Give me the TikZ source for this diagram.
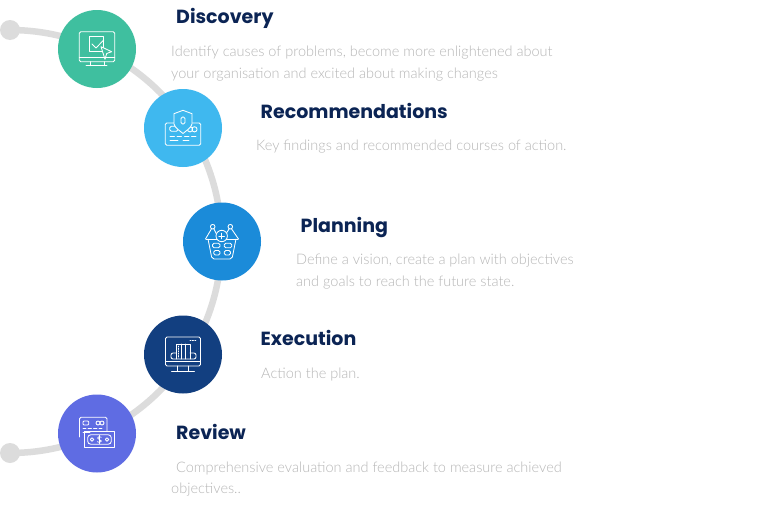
\documentclass[tikz,border=0pt]{standalone}
\usepackage{fontspec}
\newfontfamily\headb{Poppins Bold}
\newfontfamily\bodyf{Lato Light}
\definecolor{headc}{HTML}{0B2454}
\definecolor{bodyc}{HTML}{B6B6B6}
\definecolor{arcc}{HTML}{DCDCDC}
\definecolor{c1}{RGB}{63,191,159}
\definecolor{c2}{RGB}{63,184,239}
\definecolor{c3}{RGB}{27,139,217}
\definecolor{c4}{RGB}{18,63,128}
\definecolor{c5}{RGB}{95,108,227}
\tikzset{
 stepdisc/.style={circle,minimum size=78pt,inner sep=0pt,fill=#1},
 headtxt/.style={anchor=base west,inner sep=0pt,text=headc,font=\headb\fontsize{19}{24}\selectfont},
 bodytxt/.style={anchor=base west,inner sep=0pt,text=bodyc,font=\bodyf\fontsize{14.5}{22}\selectfont},
 enddot/.style={circle,minimum size=20pt,inner sep=0pt,fill=arcc},
 icon/.style={draw=white,line width=0.85pt,line join=round,line cap=round},
}
\begin{document}
\begin{tikzpicture}[x=1pt,y=-1pt]
\useasboundingbox (0,0) rectangle (768,506);
\fill[white] (0,0) rectangle (768,506);
\node[enddot] (ds) at (10,30) {};
\node[enddot] (de) at (10,453) {};
\draw[arcc,line width=6.5pt] (ds.center) arc[start angle=90,end angle=-90,radius=211.5pt];
\node[stepdisc=c1] (n1) at (97,49) {};
\node[stepdisc=c2] (n2) at (183,128) {};
\node[stepdisc=c3] (n3) at (222,241.5) {};
\node[stepdisc=c4] (n4) at (183,354.5) {};
\node[stepdisc=c5] (n5) at (97,433.5) {};
% icon 1
\draw[icon,rounded corners=1.5pt] (79.3,31.7) rectangle (114.7,61.7);
\draw[icon] (79.3,57) -- (114.7,57) (90,61.7) -- (90,65.7) (104,61.7) -- (104,65.7) (86,65.7) -- (107,65.7);
\draw[icon] (89.3,36.7) rectangle (103.3,51.7);
\draw[icon] (92,44) -- (96,48) -- (103.7,40);
\draw[icon,fill=c1] (101,46.7) -- (111.7,51.7) -- (106.7,53.5) -- (105,59.3) -- cycle;
% icon 2
\draw[icon,rounded corners=1.5pt] (165.3,123) rectangle (200.7,145.3);
\draw[icon,rounded corners=1.5pt] (169.7,126.3) rectangle (178,131.3);
\draw[icon] (190,129.3) circle[radius=2.6] (194.5,129.3) circle[radius=2.6];
\draw[icon,fill=c2] (183,110.3) -- (174,113.7) -- (174,124) .. controls (175,128) and (179,130) .. (183,133.5) .. controls (187,130) and (191,128) .. (192,124) -- (192,113.7) -- cycle;
\draw[icon,rounded corners=1.5pt] (181,117) rectangle (185,124);
\draw[icon] (170,136.3) -- (174.5,136.3) (177,136.3) -- (181.5,136.3) (184.5,136.3) -- (189,136.3) (191.5,136.3) -- (196,136.3);
\draw[icon] (170,140.7) -- (178,140.7) (183,140.7) -- (189,140.7);
% icon 3
\draw[icon] (206,239) -- (238,239);
\draw[icon,rounded corners=2pt] (208,239) -- (212,259) -- (232,259) -- (236,239);
\draw[icon] (212.7,226.7) circle[radius=2.3] (230.3,226.7) circle[radius=2.3];
\draw[icon] (211.5,228.8) -- (205.5,239) (213.8,228.8) -- (217,235) (231.5,228.8) -- (238.5,239) (229.2,228.8) -- (226.5,233);
\draw[icon,fill=c3] (221.7,236) circle[radius=5.7];
\draw[icon] (221.7,233.2) -- (221.7,238.8) (218.9,236) -- (224.5,236);
\draw[icon,rounded corners=1.5pt] (212.5,243.2) rectangle (220,247.8);
\draw[icon,rounded corners=1.5pt] (224.3,243.2) rectangle (231.8,247.8);
\draw[icon,rounded corners=1.5pt] (213.7,250.5) rectangle (220,255);
\draw[icon,rounded corners=1.5pt] (224.3,250.5) rectangle (230.5,255);
% icon 4
\draw[icon,rounded corners=1.5pt] (165.5,337) rectangle (200.5,366);
\draw[icon] (165.5,361.5) -- (200.5,361.5) (177.5,366) -- (177.5,371) (188.5,366) -- (188.5,371) (171.5,371) -- (194.5,371);
\draw[icon] (176.5,359) -- (176.5,344) -- (190,344) -- (190,359);
\draw[icon] (181,344) -- (181,359) (185.5,344) -- (185.5,359);
\draw[icon,dash pattern=on 1pt off 1.4pt] (178.8,346) -- (178.8,358);
\draw[icon,rounded corners=2pt] (176.5,353) -- (171,353) -- (171,359) -- (196,359) -- (196,353) -- (190,353);
\draw[icon,dash pattern=on 1pt off 1.4pt] (190,340.3) -- (197,340.3);
% icon 5
\draw[icon,rounded corners=1.5pt] (79.5,437) -- (79.5,417.3) -- (107,417.3) -- (107,431);
\draw[icon,rounded corners=1pt] (83,421) rectangle (88.7,425);
\draw[icon] (98,423) circle[radius=2] (102,423) circle[radius=2];
\draw[icon] (83,428) -- (86,428) (88,428) -- (91.5,428) (93.5,428) -- (97,428) (99,428) -- (102,428) (83,432) -- (90,432);
\draw[icon] (84.3,431.5) rectangle (114.3,447.5);
\draw[icon,rounded corners=3pt] (87.7,434.8) rectangle (111.3,444.2);
\draw[icon] (92,439.5) circle[radius=1.7] (107,439.5) circle[radius=1.7];
\draw[icon,line width=0.7pt] (101.3,437.3) .. controls (100.5,436.2) and (97.5,436.2) .. (97.5,438) .. controls (97.5,440) and (101.4,439.2) .. (101.4,441) .. controls (101.4,442.8) and (98,442.8) .. (97.3,441.7) (99.4,435.3) -- (99.4,443.7);
% texts
\node[headtxt] at (176,23.5) {Discovery};
\node[bodytxt] at (171,56.5) {Identify causes of problems, become more enlightened about};
\node[bodytxt] at (171,78.5) {your organisation and excited about making changes};
\node[headtxt] at (260.5,118.3) {Recommendations};
\node[bodytxt] at (256,150.6) {Key findings and recommended courses of action.};
\node[headtxt] at (300.5,232) {Planning};
\node[bodytxt] at (296,264.5) {Define a vision, create a plan with objectives};
\node[bodytxt] at (296,286.5) {and goals to reach the future state.};
\node[headtxt] at (260.5,345) {Execution};
\node[bodytxt] at (261,378.5) {Action the plan.};
\node[headtxt] at (176,439) {Review};
\node[bodytxt] at (176,472) {Comprehensive evaluation and feedback to measure achieved};
\node[bodytxt] at (171,493.7) {objectives..};
\end{tikzpicture}
\end{document}
